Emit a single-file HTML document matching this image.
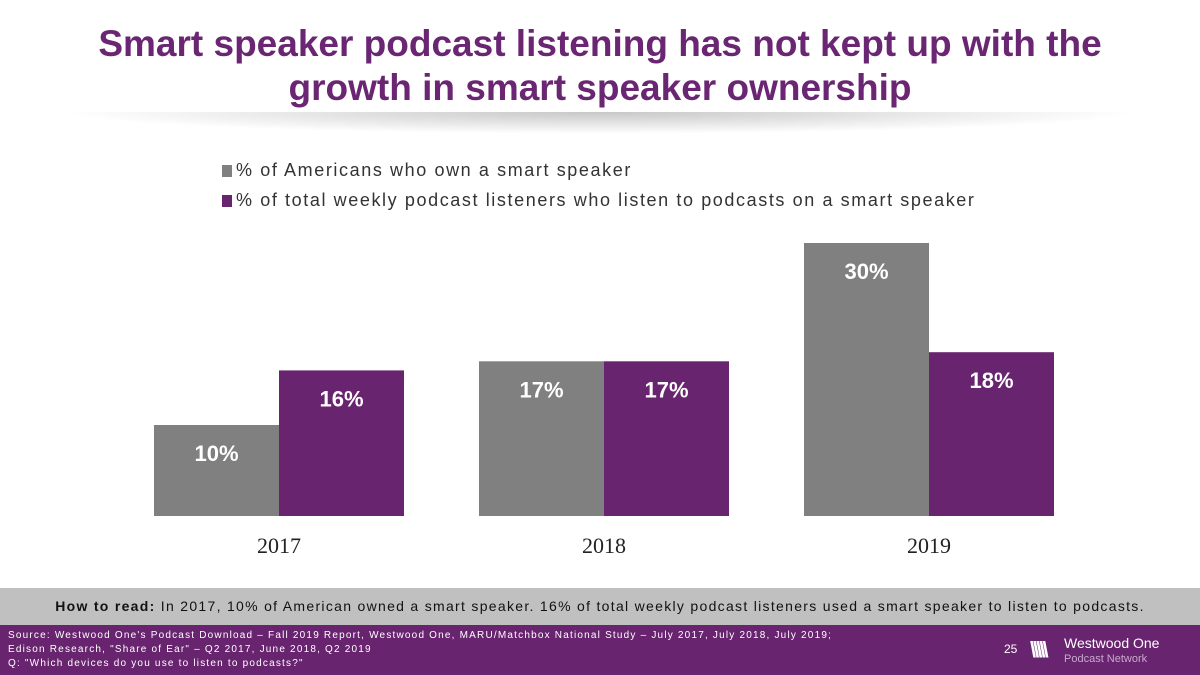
<!DOCTYPE html>
<html><head><meta charset="utf-8"><style>
body{margin:0;width:1200px;height:675px;overflow:hidden;background:#fff;font-family:"Liberation Sans",sans-serif;position:relative}
.abs{position:absolute}
#title{left:0;top:22px;width:1200px;text-align:center;color:#6a2573;font-weight:bold;font-size:37px;line-height:44px}
#shadow{left:60px;top:112px;width:1080px;height:22px;background:radial-gradient(ellipse at 50% 0%,rgba(0,0,0,0.22),rgba(0,0,0,0) 70%)}
.leg{left:222px;font-size:18px;color:#333;display:flex;align-items:center;letter-spacing:1.6px}
.sw{width:10px;height:12px;margin-right:4px}
#howto{left:0;top:588px;width:1200px;height:37px;background:#c0c0c0;font-size:14px;color:#111;text-align:center;line-height:37px;letter-spacing:1.3px}
#foot{left:0;top:625px;width:1200px;height:50px;background:#68246e;color:#fff}
</style></head><body>
<div id="title" class="abs">Smart speaker podcast listening has not kept up with the<br>growth in smart speaker ownership</div>
<div id="shadow" class="abs"></div>
<div class="abs leg" style="top:160px"><div class="sw" style="background:#808080"></div>% of Americans who own a smart speaker</div>
<div class="abs leg" style="top:190px"><div class="sw" style="background:#68246e"></div>% of total weekly podcast listeners who listen to podcasts on a smart speaker</div>
<svg class="abs" style="left:0;top:0" width="1200" height="675" id="chart"></svg>
<div id="howto" class="abs"><b>How to read:</b> In 2017, 10% of American owned a smart speaker. 16% of total weekly podcast listeners used a smart speaker to listen to podcasts.</div>
<div id="foot" class="abs">
<div class="abs" style="left:8px;top:4px;font-size:10px;line-height:14px;letter-spacing:1.2px">Source: Westwood One's Podcast Download – Fall 2019 Report, Westwood One, MARU/Matchbox National Study – July 2017, July 2018, July 2019;<br>Edison Research, "Share of Ear" – Q2 2017, June 2018, Q2 2019<br>Q: "Which devices do you use to listen to podcasts?"</div>
<div class="abs" style="left:1004px;top:17px;font-size:12px">25</div>
<div class="abs" style="left:1030px;top:12px;font-size:22px;font-weight:bold;letter-spacing:-3px">\\\\\</div>
<div class="abs" style="left:1064px;top:11px;font-size:14px;line-height:14px">Westwood One<br><span style="font-size:11px;color:#c9a8cf">Podcast Network</span></div>
</div>
<script>
const categories=["2017","2018","2019"];
const ownership=[10,17,30];
const listening=[16,17,18];
const svg=document.getElementById('chart');
const NS="http://www.w3.org/2000/svg";
const base=516,pxPer=9.1;
function y(v){return base-v*pxPer;}
function x(i){return 154+i*325;}
function add(tag,attrs,text){const e=document.createElementNS(NS,tag);for(const k in attrs)e.setAttribute(k,attrs[k]);if(text!=null)e.textContent=text;svg.appendChild(e);return e;}
const series=[{d:ownership,c:"#808080",n:"ownership"},{d:listening,c:"#68246e",n:"listening"}];
categories.forEach((cat,i)=>{
  series.forEach((s,j)=>{
    const v=s.d[i],bx=x(i)+j*125;
    const r=add('rect',{x:bx,y:y(v),width:125,height:base-y(v),fill:s.c});
    
    
    const t=add('text',{x:bx+62.5,y:y(v)+36,'text-anchor':'middle',fill:'#fff','font-size':22,'font-weight':'bold','font-family':'Liberation Sans'},v+'%');
    
    
  });
  const c=add('text',{x:x(i)+125,y:553,'text-anchor':'middle',fill:'#222','font-size':22,'font-family':'Liberation Serif'},cat);
  
  
});
</script>
</body></html>
